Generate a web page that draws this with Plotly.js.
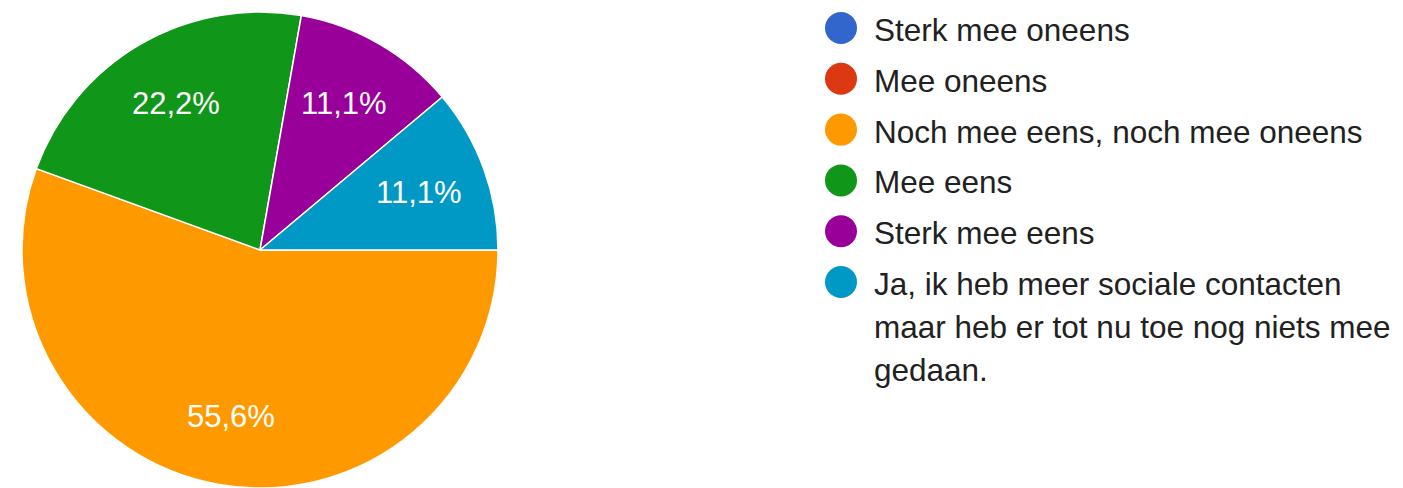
<!DOCTYPE html>
<html>
<head>
<meta charset="utf-8">
<script src="https://cdn.plot.ly/plotly-3.0.1.min.js"></script>
<style>
html,body{margin:0;padding:0;background:#fff;}
#chart{width:1403px;height:488px;}
</style>
</head>
<body>
<div id="chart"></div>
<script>
// Categories (legend order) and their answer counts
const categories = [
  'Sterk mee oneens',
  'Mee oneens',
  'Noch mee eens, noch mee oneens',
  'Mee eens',
  'Sterk mee eens',
  'Ja, ik heb meer sociale contacten maar heb er tot nu toe nog niets mee gedaan.'
];
const legendLabels = [
  'Sterk mee oneens',
  'Mee oneens',
  'Noch mee eens, noch mee oneens',
  'Mee eens',
  'Sterk mee eens',
  'Ja, ik heb meer sociale contacten<br>maar heb er tot nu toe nog niets mee<br>gedaan.'
];
const counts = [0, 0, 5, 2, 1, 1];
const colors = ['#3366cc', '#dc3912', '#ff9900', '#109618', '#990099', '#0099c6'];

const W = 1403, H = 488;
const FONT = 'Liberation Sans, Arial, sans-serif';

// pie geometry (pixels)
const PIE_CX = 260, PIE_CY = 250, PIE_R = 238;
const START_ANGLE = 90;       // degrees clockwise from 12 o'clock
const LABEL_K = 0.71;         // label radius as fraction of pie radius

const trace = {
  type: 'pie',
  labels: categories,
  values: counts,
  sort: false,
  direction: 'clockwise',
  rotation: START_ANGLE,
  marker: {colors: colors, line: {color: '#ffffff', width: 1.5}},
  textinfo: 'none',
  hoverinfo: 'label+percent',
  domain: {x: [(PIE_CX - PIE_R) / W, (PIE_CX + PIE_R) / W],
           y: [1 - (PIE_CY + PIE_R) / H, 1 - (PIE_CY - PIE_R) / H]},
  showlegend: false
};

const shapes = [];
const annotations = [];

// Percentage labels inside slices, placed on each slice's bisector
const total = counts.reduce((a, b) => a + b, 0);
let cum = 0;
counts.forEach((v) => {
  if (v > 0) {
    const mid = (START_ANGLE + 360 * (cum + v / 2) / total) * Math.PI / 180;
    const px = PIE_CX + LABEL_K * PIE_R * Math.sin(mid);
    const py = PIE_CY - LABEL_K * PIE_R * Math.cos(mid);
    annotations.push({
      xref: 'paper', yref: 'paper', x: px / W, y: 1 - py / H,
      xanchor: 'center', yanchor: 'middle', showarrow: false,
      text: (100 * v / total).toFixed(1).replace('.', ',') + '%',
      font: {family: FONT, size: 31, color: '#ffffff'}
    });
  }
  cum += v;
});

// Custom legend with round markers
const legendX = 841, markerR = 16, textX = 872;
const rowStep = 50.8, lineStep = 43, firstY = 28;
legendLabels.forEach((lab, i) => {
  const cy = firstY + rowStep * i;
  shapes.push({
    type: 'circle', xref: 'paper', yref: 'paper',
    x0: (legendX - markerR) / W, x1: (legendX + markerR) / W,
    y0: 1 - (cy + markerR) / H, y1: 1 - (cy - markerR) / H,
    fillcolor: colors[i], line: {width: 0}
  });
  lab.split('<br>').forEach((line, j) => {
    annotations.push({
      xref: 'paper', yref: 'paper',
      x: textX / W, y: 1 - (cy + 2 + lineStep * j) / H,
      xanchor: 'left', yanchor: 'middle',
      text: line, showarrow: false,
      font: {family: FONT, size: 31.5, color: '#212121'}
    });
  });
});

const layout = {
  width: W, height: H,
  margin: {l: 0, r: 0, t: 0, b: 0},
  paper_bgcolor: '#ffffff',
  plot_bgcolor: '#ffffff',
  separators: ',.',
  showlegend: false,
  shapes: shapes,
  annotations: annotations
};

Plotly.newPlot('chart', [trace], layout, {displayModeBar: false, staticPlot: true});
</script>
</body>
</html>
